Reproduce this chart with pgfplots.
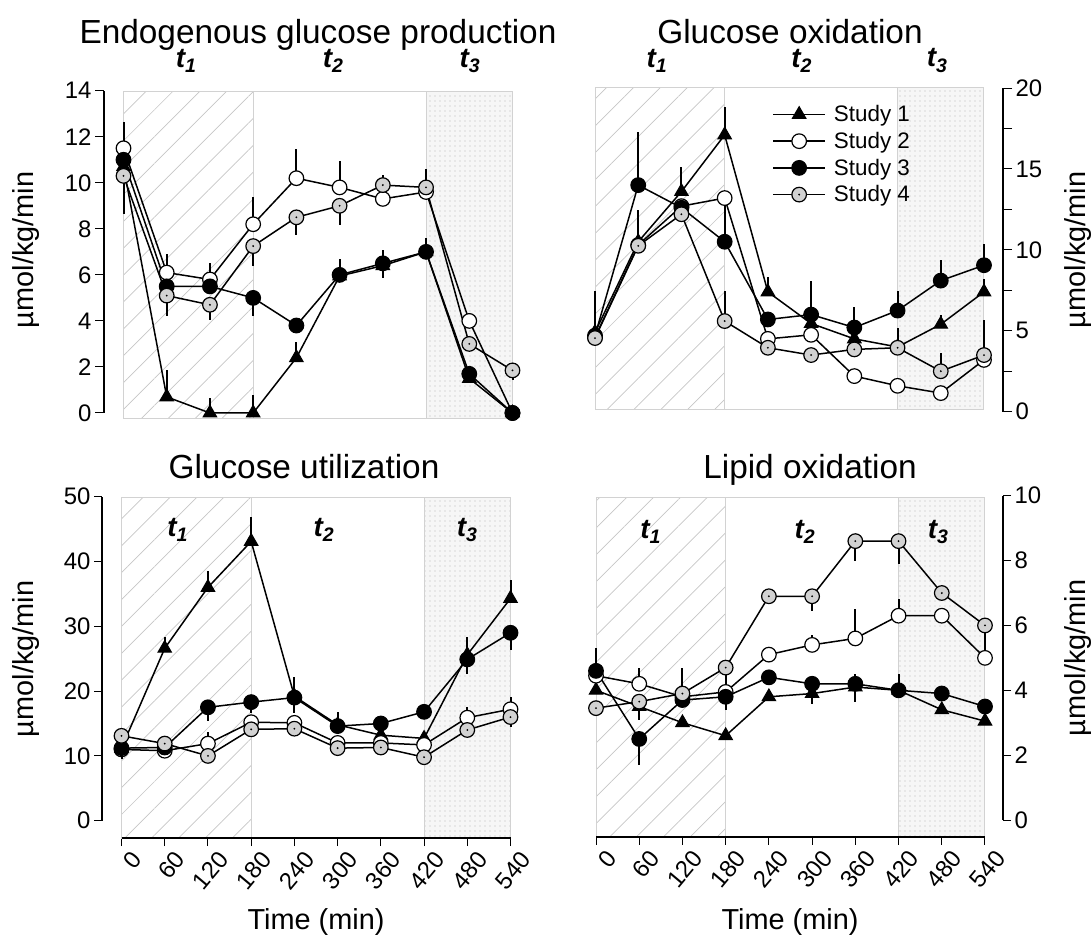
\documentclass[border=0pt]{standalone}
\usepackage{fontspec}
\setmainfont{Liberation Sans}
\usepackage{pgfplots}
\pgfplotsset{compat=1.18}
\usetikzlibrary{patterns.meta}

% grey circle with a black dot in the middle (Study 4)
\pgfdeclareplotmark{dotcirc}{%
  \pgfpathcircle{\pgfpointorigin}{\pgfplotmarksize}%
  \pgfusepathqfillstroke
  \begin{pgfscope}%
    \pgfsetfillcolor{black}%
    \pgfpathcircle{\pgfpointorigin}{0.14\pgfplotmarksize}%
    \pgfusepathqfill
  \end{pgfscope}}

\newcommand\ticksize{\fontsize{24}{28}\selectfont}
\newcommand\labsize{\fontsize{29}{34}\selectfont}
\newcommand\titsize{\fontsize{33.5}{40}\selectfont}
\newcommand\tsize{\fontsize{28}{32}\selectfont\bfseries\itshape}

\pgfplotsset{
  panel/.style={
    scale only axis, clip=false,
    tick align=outside,
    major tick length=9bp, minor tick length=9bp,
    tick style={black, line width=1bp},
    y axis line style={draw=none},
    x axis line style={draw=none},
    tick label style={font=\ticksize},
    /pgf/number format/assume math mode=true,
  },
  bottomx/.style={
    axis x line*=bottom,
    xtick={0,60,...,540},
    major tick length=8bp,
    x tick label style={rotate=50, anchor=north east, font=\ticksize,
      inner sep=1bp, xshift=4bp, yshift=-8bp},
  },
  s1/.style={black, line width=1.5bp, mark=triangle*, mark size=7.8bp,
    mark options={solid, fill=black, line width=1bp}},
  s2/.style={black, line width=1.5bp, mark=*, mark size=7.3bp,
    mark options={solid, fill=white, line width=1.2bp}},
  s3/.style={black, line width=1.5bp, mark=*, mark size=7.3bp,
    mark options={solid, fill=black, line width=1.2bp}},
  s4/.style={black, line width=1.5bp, mark=dotcirc, mark size=7.3bp,
    mark options={solid, fill=gray!35, line width=1.2bp}},
  eb/.style={error bars/.cd, y dir=both, y explicit, error mark=none,
    error bar style={line width=2bp, black}},
}

% phase shading t1 / t2 / t3
\newcommand\phases[2]{%
  \addplot[forget plot, draw=none,
    pattern={Lines[angle=45,distance=19bp,line width=0.7bp]}, pattern color=gray!45]
    coordinates {(0,#1) (180,#1) (180,#2) (0,#2)} -- cycle;
  \addplot[forget plot, draw=none, fill=gray!7]
    coordinates {(420,#1) (540,#1) (540,#2) (420,#2)} -- cycle;
  \addplot[forget plot, draw=none,
    pattern={Dots[distance=5bp,radius=0.6bp]}, pattern color=gray!55]
    coordinates {(420,#1) (540,#1) (540,#2) (420,#2)} -- cycle;
  \addplot[forget plot, gray!35, line width=1bp]
    coordinates {(0,#1) (540,#1) (540,#2) (0,#2)} -- cycle;
  \addplot[forget plot, gray!35, line width=1bp] coordinates {(180,#1) (180,#2)};
  \addplot[forget plot, gray!35, line width=1bp] coordinates {(420,#1) (420,#2)};
}

\begin{document}
\begin{tikzpicture}
\useasboundingbox (0,0) rectangle (1092bp,-936bp);

% ---------------- Endogenous glucose production
\begin{axis}[panel, at={(104.05bp,-419.9bp)}, anchor=south west,
  xmin=-27, xmax=545, width=412.05bp,
  ymin=-0.3, ymax=14, height=329.2bp,
  axis y line*=left, axis x line=none,
  ytick={0,2,...,14}]
  \phases{-0.22}{13.95}
  \draw[black, line width=1.2bp] (axis cs:-27,0) -- (axis cs:-27,14);
  \addplot[s1, eb] coordinates {
    (0,10.7) (60,0.7) += (0,1.15) (120,0) += (0,0.65) (180,0) += (0,0.8)
    (240,2.4) += (0,0.7) (300,5.95) (360,6.4) -= (0,0.55) (420,7.0)
    (480,1.5) (540,0)};
  \addplot[s2, eb] coordinates {
    (0,11.5) += (0,1.15) (60,6.1) += (0,0.8) (120,5.8) += (0,0.7)
    (180,8.2) += (0,1.2) (240,10.2) += (0,1.25) (300,9.8) += (0,1.15)
    (360,9.3) (420,9.6) (480,4.0) (540,0)};
  \addplot[s3, eb] coordinates {
    (0,11.0) (60,5.5) (120,5.5) (180,5.0) -= (0,0.8) (240,3.8)
    (300,6.0) += (0,0.7) (360,6.5) += (0,0.6) (420,7.0) += (0,0.6)
    (480,1.7) (540,0)};
  \addplot[s4, eb] coordinates {
    (0,10.3) -= (0,1.65) (60,5.1) -= (0,0.9) (120,4.7) -= (0,0.65)
    (180,7.25) -= (0,0.85) (240,8.5) -= (0,0.75) (300,9.0) -= (0,0.85)
    (360,9.9) += (0,0.45) -= (0,0.9) (420,9.8) += (0,0.8) (480,3.0)
    (540,1.85) -= (0,0.4)};
  \node[font=\tsize] at (axis cs:87,15.3) {t\textsubscript{1}};
  \node[font=\tsize] at (axis cs:291,15.3) {t\textsubscript{2}};
  \node[font=\tsize] at (axis cs:481,15.3) {t\textsubscript{3}};
\end{axis}

% ---------------- Glucose oxidation
\begin{axis}[panel, at={(591.4bp,-411.7bp)}, anchor=south west,
  xmin=-5, xmax=566.4, width=411.6bp,
  ymin=0, ymax=20, height=323.7bp,
  axis y line*=right, axis x line=none,
  ytick={0,5,...,20}, minor ytick={2.5,7.5,12.5,17.5},
  legend style={at={(axis cs:246,19.05)}, anchor=north west, draw=none,
    fill=none, inner sep=0pt, row sep=5bp,
    font=\fontsize{22.5}{25}\selectfont,
    /tikz/every odd column/.append style={column sep=6bp}},
  legend cell align=left,
  legend image code/.code={%
    \draw[mark repeat=2, mark phase=2, #1]
      plot coordinates {(0bp,0bp) (26bp,0bp) (52bp,0bp)};}]
  \phases{0.15}{20.05}
  \draw[black, line width=1.2bp] (axis cs:566.4,0) -- (axis cs:566.4,20);
  \addplot[s1, eb] coordinates {
    (0,4.9) += (0,2.55) (60,10.5) += (0,1.95) (120,13.6) += (0,1.5)
    (180,17.1) += (0,1.75) (240,7.4) += (0,0.95) (300,5.45) (360,4.5)
    (420,4.0) (480,5.4) += (0,0.6) (540,7.4) += (0,0.8)};
  \addplot[s2, eb] coordinates {
    (0,4.6) (60,10.3) (120,12.7) (180,13.2) (240,4.5) (300,4.75)
    (360,2.2) (420,1.6) (480,1.15) (540,3.2)};
  \addplot[s3, eb] coordinates {
    (0,4.7) (60,14.0) += (0,3.3) (120,12.6) (180,10.5) += (0,2.25)
    (240,5.7) (300,6.0) += (0,2.1) (360,5.2) += (0,1.25)
    (420,6.25) += (0,1.2) (480,8.1) += (0,1.3) (540,9.05) += (0,1.3)};
  \addplot[s4, eb] coordinates {
    (0,4.55) (60,10.25) (120,12.2) (180,5.6) += (0,1.85) (240,3.95)
    (300,3.5) (360,3.85) (420,3.95) += (0,1.25) (480,2.5) += (0,1.1)
    (540,3.5) += (0,2.15)};
  \legend{Study 1, Study 2, Study 3, Study 4}
  \node[font=\tsize] at (axis cs:86,21.7) {t\textsubscript{1}};
  \node[font=\tsize] at (axis cs:287,21.7) {t\textsubscript{2}};
  \node[font=\tsize] at (axis cs:475,21.7) {t\textsubscript{3}};
\end{axis}

% ---------------- Glucose utilization
\begin{axis}[panel, bottomx, at={(102.05bp,-838bp)}, anchor=south west,
  xmin=-27, xmax=545, width=412.05bp,
  ymin=-2.67, ymax=50, height=341.3bp,
  axis y line*=left,
  ytick={0,10,...,50}]
  \phases{-2.67}{49.95}
  \draw[black, line width=1.2bp] (axis cs:-27,0) -- (axis cs:-27,50);
  \draw[black, line width=1.2bp] (axis cs:0,-2.67) -- (axis cs:540,-2.67);
  \addplot[s1, eb] coordinates {
    (0,11.2) -= (0,1.7) (60,26.6) += (0,1.8) (120,36.0) += (0,2.6)
    (180,43.1) += (0,3.7) (240,19.2) += (0,3.0) (300,14.8) += (0,2.0)
    (360,13.2) (420,12.7) (480,25.6) += (0,2.8) (540,34.3) += (0,2.9)};
  \addplot[s2, eb] coordinates {
    (0,11.0) (60,10.8) (120,11.9) += (0,1.8) (180,15.2) (240,15.1)
    (300,12.0) (360,12.0) (420,11.7) (480,15.9) += (0,1.7)
    (540,17.2) += (0,1.9)};
  \addplot[s3, eb] coordinates {
    (0,11.2) (60,11.3) (120,17.5) -= (0,2.1) (180,18.3) -= (0,1.7)
    (240,19.0) -= (0,2.4) (300,14.6) (360,15.0) (420,16.8)
    (480,24.9) -= (0,2.2) (540,29.0) -= (0,2.6)};
  \addplot[s4, eb] coordinates {
    (0,13.1) (60,11.9) (120,10.0) (180,14.1) (240,14.2) (300,11.2)
    (360,11.3) (420,9.8) (480,14.0) (540,16.0) -= (0,1.5)};
  \node[font=\tsize] at (axis cs:78,44.9) {t\textsubscript{1}};
  \node[font=\tsize] at (axis cs:281,44.9) {t\textsubscript{2}};
  \node[font=\tsize] at (axis cs:480,44.9) {t\textsubscript{3}};
\end{axis}

% ---------------- Lipid oxidation
\begin{axis}[panel, bottomx, at={(592.4bp,-836.9bp)}, anchor=south west,
  xmin=-5, xmax=565, width=410.6bp,
  ymin=-0.52, ymax=10, height=341.2bp,
  axis y line*=right,
  ytick={0,2,...,10}]
  \phases{-0.52}{9.96}
  \draw[black, line width=1.2bp] (axis cs:565,0) -- (axis cs:565,10);
  \draw[black, line width=1.2bp] (axis cs:0,-0.52) -- (axis cs:540,-0.52);
  \addplot[s1, eb] coordinates {
    (0,4.0) (60,3.5) (120,3.0) (180,2.6) (240,3.8) (300,3.9) -= (0,0.32)
    (360,4.1) (420,4.0) (480,3.4) (540,3.05)};
  \addplot[s2, eb] coordinates {
    (0,4.45) (60,4.2) += (0,0.5) (120,3.8) (180,3.95) (240,5.1)
    (300,5.4) += (0,0.3) (360,5.6) += (0,0.9) (420,6.3) += (0,0.5)
    (480,6.3) (540,5.0)};
  \addplot[s3, eb] coordinates {
    (0,4.6) += (0,0.7) (60,2.5) -= (0,0.8) (120,3.7) (180,3.8) -= (0,0.4)
    (240,4.4) (300,4.2) (360,4.2) += (0,0.3) -= (0,0.55)
    (420,4.0) += (0,0.5) (480,3.9) (540,3.5)};
  \addplot[s4, eb] coordinates {
    (0,3.45) (60,3.65) -= (0,0.55) (120,3.9) += (0,0.8) (180,4.7) -= (0,0.8)
    (240,6.9) (300,6.9) -= (0,0.45) (360,8.6) -= (0,0.6)
    (420,8.6) -= (0,0.7) (480,7.0) (540,6.0) -= (0,0.95)};
  \node[font=\tsize] at (axis cs:76,8.88) {t\textsubscript{1}};
  \node[font=\tsize] at (axis cs:290,8.88) {t\textsubscript{2}};
  \node[font=\tsize] at (axis cs:475,8.88) {t\textsubscript{3}};
\end{axis}

% titles and axis labels
\node[font=\titsize, anchor=base] at (318bp,-43bp) {Endogenous glucose production};
\node[font=\titsize, anchor=base] at (790bp,-43bp) {Glucose oxidation};
\node[font=\titsize, anchor=base] at (304bp,-478bp) {Glucose utilization};
\node[font=\titsize, anchor=base] at (810bp,-478bp) {Lipid oxidation};
\node[font=\labsize, rotate=90] at (26bp,-250bp) {µmol/kg/min};
\node[font=\labsize, rotate=90] at (26bp,-659bp) {µmol/kg/min};
\node[font=\labsize, rotate=90] at (1078bp,-250bp) {µmol/kg/min};
\node[font=\labsize, rotate=90] at (1078bp,-658bp) {µmol/kg/min};
\node[font=\labsize, anchor=base] at (316bp,-929bp) {Time (min)};
\node[font=\labsize, anchor=base] at (790bp,-929bp) {Time (min)};
\end{tikzpicture}
\end{document}
